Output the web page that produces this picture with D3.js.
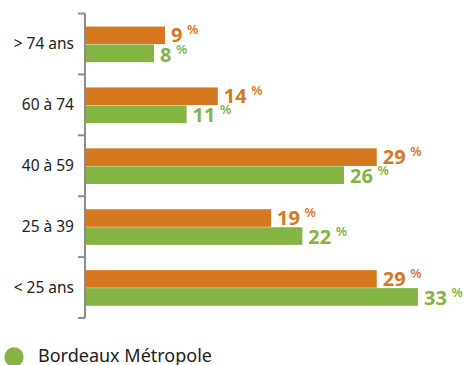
<!DOCTYPE html>
<html>
<head>
<meta charset="utf-8">
<script src="https://cdn.jsdelivr.net/npm/d3@7"></script>
<style>
  html, body { margin: 0; padding: 0; background: #fff; }
  svg { display: block; }
</style>
</head>
<body>
<svg id="chart" width="466" height="365"></svg>
<script>
// ---- data ----
const categories = ["> 74 ans", "60 à 74", "40 à 59", "25 à 39", "< 25 ans"];
const seriesNames = ["Comparaison", "Bordeaux Métropole"];
// bar lengths (%)
const comparaisonValues = [7.85, 13.1, 28.9, 18.4, 28.9];
const metropoleValues   = [6.76, 10.0, 25.65, 21.5, 33.0];
// printed labels
const comparaisonLabels = ["9", "14", "29", "19", "29"];
const metropoleLabels   = ["8", "11", "26", "22", "33"];
const legendItems = ["Bordeaux Métropole"];

const colors = { "Comparaison": "#d6781f", "Bordeaux Métropole": "#84b441" };
const baselineLift = { "Comparaison": 2.6, "Bordeaux Métropole": 1 };

const svg = d3.select("#chart");
const font = "'Noto Sans', 'Open Sans', sans-serif";

const x = d3.scaleLinear().domain([0, 33]).range([86, 418]);
const y0 = d3.scaleBand().domain(categories).range([13.5, 318]).padding(0);
const ySub = d3.scaleBand().domain(seriesNames).range([0, y0.bandwidth()]).paddingInner(0).paddingOuter(0.69);

const rows = categories.map((c, i) => ({
  cat: c,
  items: [
    { s: "Comparaison", v: comparaisonValues[i], label: comparaisonLabels[i] },
    { s: "Bordeaux Métropole", v: metropoleValues[i], label: metropoleLabels[i] }
  ]
}));

// bars
const g = svg.append("g");
const groups = g.selectAll("g.row").data(rows).join("g")
  .attr("class", "row")
  .attr("transform", d => `translate(0,${y0(d.cat) + 0.6})`);

groups.selectAll("rect").data(d => d.items).join("rect")
  .attr("x", x(0))
  .attr("y", d => ySub(d.s))
  .attr("width", d => x(d.v) - x(0))
  .attr("height", ySub.bandwidth() - 0.4)
  .attr("fill", d => colors[d.s]);

// value labels
const lab = groups.selectAll("text.val").data(d => d.items).join("text")
  .attr("class", "val")
  .attr("x", d => x(d.v) + 6)
  .attr("y", d => ySub(d.s) + ySub.bandwidth() - baselineLift[d.s])
  .attr("fill", d => colors[d.s])
  .style("font-family", font);
lab.append("tspan")
  .style("font-weight", "bold")
  .style("font-size", "20px")
  .text(d => d.label);
lab.append("tspan")
  .attr("dx", 4.5)
  .attr("dy", -8)
  .style("font-weight", "600")
  .style("font-size", "13px")
  .text("%");

// axis (labels only)
const axis = d3.axisLeft(y0).tickSize(0).tickPadding(11);
const ax = svg.append("g").attr("transform", `translate(${x(0) - 1},0)`).call(axis);
ax.select(".domain").remove();
ax.selectAll("text")
  .style("font-family", font)
  .style("font-size", "15.5px")
  .attr("fill", "#222");

// axis line + boundary ticks
const bounds = categories.map(c => y0(c)).concat([y0.range()[1]]);
const axg = svg.append("g").attr("stroke", "#8c8c8c").attr("stroke-width", 2);
axg.append("line")
  .attr("x1", x(0) - 1).attr("x2", x(0) - 1)
  .attr("y1", bounds[0]).attr("y2", bounds[bounds.length - 1]);
axg.selectAll("line.tick").data(bounds).join("line")
  .attr("class", "tick")
  .attr("x1", x(0) - 8).attr("x2", x(0) - 1)
  .attr("y1", d => d).attr("y2", d => d);

// legend
const leg = svg.append("g").attr("transform", "translate(14,357)");
leg.append("circle").attr("r", 9.7).attr("fill", colors["Bordeaux Métropole"]);
leg.append("text")
  .attr("x", 24).attr("y", 4.7)
  .style("font-family", font)
  .style("font-size", "18px")
  .attr("fill", "#222")
  .text(legendItems[0]);
</script>
</body>
</html>
